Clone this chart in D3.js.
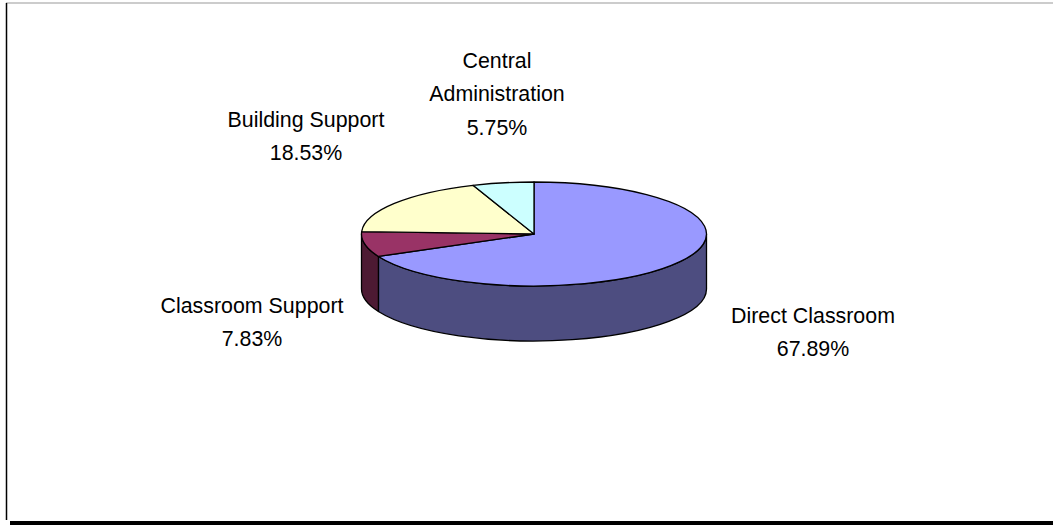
<!DOCTYPE html>
<html>
<head>
<meta charset="utf-8">
<title>Spending by category</title>
<style>
  body { margin: 0; background: #fff; }
  svg text { font-family: "Liberation Sans", Arial, sans-serif; fill: #000; }
</style>
</head>
<body>
<svg id="chart" width="1053" height="525"></svg>
<script src="https://cdn.jsdelivr.net/npm/d3@7/dist/d3.min.js"></script>
<script>
// data
const categories = ["Direct Classroom", "Classroom Support", "Building Support", "Central Administration"];
const values = [67.89, 7.83, 18.53, 5.75];
const labelLines = [["Direct Classroom"], ["Classroom Support"], ["Building Support"], ["Central", "Administration"]];
const topColors = ["#9999ff", "#993366", "#ffffcc", "#ccffff"];
const sideColors = ["#4d4d80", "#4d1a33", "#80806a", "#6a8080"];

const svg = d3.select("#chart");

// frame
svg.append("line").attr("x1", 6).attr("y1", 3).attr("x2", 1053).attr("y2", 3)
  .attr("stroke", "#999").attr("stroke-width", 1);
svg.append("line").attr("x1", 6.5).attr("y1", 3).attr("x2", 6.5).attr("y2", 520)
  .attr("stroke", "#000").attr("stroke-width", 1.5);
svg.append("rect").attr("x", 10).attr("y", 521).attr("width", 1043).attr("height", 4)
  .attr("fill", "#000");

// ellipse geometry
const cx = 534, cy = 234, rx = 172.5, ry = 52, depth = 55;
const px = a => cx + rx * Math.sin(a);
const py = a => cy - ry * Math.cos(a);

const arcs = d3.pie().sort(null).value(d => d)(values);

const g = svg.append("g");

// side walls (front half only: angles between PI/2 and 3PI/2)
arcs.forEach((d, i) => {
  const a0 = Math.max(d.startAngle, Math.PI / 2);
  const a1 = Math.min(d.endAngle, Math.PI * 1.5);
  if (a1 <= a0) return;
  const large = (a1 - a0) > Math.PI ? 1 : 0;
  const p = `M${px(a0)},${py(a0)} A${rx},${ry} 0 ${large} 1 ${px(a1)},${py(a1)}` +
    ` L${px(a1)},${py(a1) + depth} A${rx},${ry} 0 ${large} 0 ${px(a0)},${py(a0) + depth} Z`;
  g.append("path").attr("d", p)
    .attr("fill", sideColors[i]).attr("stroke", "#000")
    .attr("stroke-width", 1.3).attr("stroke-linejoin", "round");
});

// top faces
arcs.forEach((d, i) => {
  const a0 = d.startAngle, a1 = d.endAngle;
  const large = (a1 - a0) > Math.PI ? 1 : 0;
  const p = `M${cx},${cy} L${px(a0)},${py(a0)} A${rx},${ry} 0 ${large} 1 ${px(a1)},${py(a1)} Z`;
  g.append("path").attr("d", p)
    .attr("fill", topColors[i]).attr("stroke", "#000")
    .attr("stroke-width", 1.3).attr("stroke-linejoin", "round");
});

// labels
const labelPos = [[813, 323], [252, 313], [306, 127], [497, 68]];
const lineGap = 33.5;
arcs.forEach((d, i) => {
  const lines = labelLines[i].concat([d3.format(".2f")(values[i]) + "%"]);
  const [lx, ly] = labelPos[i];
  const t = svg.append("g").attr("transform", `translate(${lx},${ly}) scale(0.93,1)`);
  lines.forEach((s, k) => {
    t.append("text").attr("x", 0).attr("y", k * lineGap)
      .attr("text-anchor", "middle").attr("font-size", 23).text(s);
  });
});
</script>
</body>
</html>
